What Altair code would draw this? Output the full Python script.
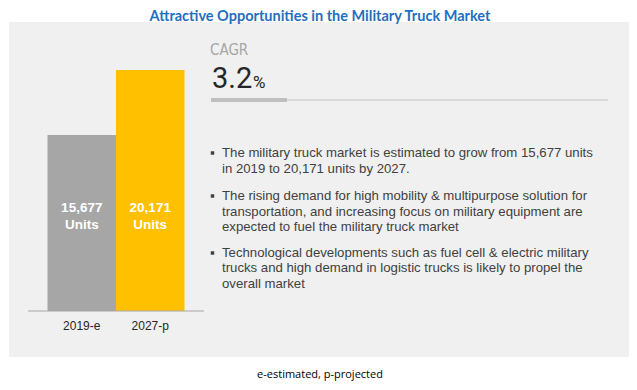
import altair as alt
import pandas as pd

# ---- data ----
categories = ["2019-e", "2027-p"]
values = [15677, 20171]
bar_colors = ["#a6a6a6", "#ffc000"]
title_text = "Attractive Opportunities in the Military Truck Market"
cagr_label = "CAGR"
cagr_value = "3.2"
cagr_unit = "%"
footnote = "e-estimated, p-projected"
bullet_lines = [
    ["The military truck market is estimated to grow from 15,677 units",
     "in 2019  to 20,171 units by 2027."],
    ["The rising demand for high mobility & multipurpose solution for",
     "transportation, and increasing focus on military equipment are",
     "expected to fuel the military truck market"],
    ["Technological developments such as fuel cell & electric military",
     "trucks and high demand in logistic trucks is likely to propel the",
     "overall market"],
]

W, H = 621, 374
y_floor = 3510

bars_df = pd.DataFrame({
    "cat": categories,
    "value": values,
    "color": bar_colors,
    "label": [f"{v:,}\nUnits" for v in values],
})

xscale = alt.Scale(domain=categories, range=[20, 196], paddingInner=0, paddingOuter=0.285)
yscale = alt.Scale(domain=[y_floor, 24457], range=[303, 0], zero=False, nice=False)

panel = alt.Chart(pd.DataFrame({"a": [0]})).mark_rect(color="#f0f0f0").encode(
    x=alt.value(1), x2=alt.value(623), y=alt.value(14), y2=alt.value(349)
)

bars = alt.Chart(bars_df).mark_bar(size=68.5).encode(
    x=alt.X("cat:N", scale=xscale, axis=None, sort=categories),
    y=alt.Y("value:Q", scale=yscale, axis=None),
    y2=alt.datum(y_floor),
    color=alt.Color("color:N", scale=None),
)

bar_labels = alt.Chart(bars_df).mark_text(
    font="Liberation Sans", fontSize=13.5, fontWeight="bold", color="white",
    lineHeight=17, baseline="middle", align="center", lineBreak="\n"
).encode(
    x=alt.X("cat:N", scale=xscale, axis=None, sort=categories),
    y=alt.value(200),
    text="label:N",
)

baseline = alt.Chart(pd.DataFrame({"a": [0]})).mark_rule(color="#a6a6a6", strokeWidth=1).encode(
    x=alt.value(20), x2=alt.value(196), y=alt.value(303)
)

cat_labels = alt.Chart(bars_df).mark_text(
    font="Liberation Sans", fontSize=12, color="#262626", baseline="middle"
).encode(
    x=alt.X("cat:N", scale=xscale, axis=None, sort=categories),
    y=alt.value(318),
    text="cat:N",
)

def txt(t, x, y, **kw):
    return alt.Chart(pd.DataFrame({"t": [t]})).mark_text(**kw).encode(
        x=alt.value(x), y=alt.value(y), text="t:N"
    )

title = txt(title_text, 312, 9, font="Lato", fontSize=14.5, fontWeight="bold",
            color="#1f6fbf", align="center", baseline="middle")
cagr = txt(cagr_label, 202, 42, font="DejaVu Sans Condensed, Liberation Sans", fontSize=15,
           color="#a6a6a6", align="left", baseline="middle")
cagr_v = txt(cagr_value, 204, 80, font="Roboto", fontSize=29, color="#262626",
             align="left", baseline="alphabetic")
cagr_u = txt(cagr_unit, 245, 80, font="Roboto", fontSize=17, color="#262626",
             align="left", baseline="alphabetic")

line_thin = alt.Chart(pd.DataFrame({"a": [0]})).mark_rule(color="#d9d9d9", strokeWidth=2).encode(
    x=alt.value(203), x2=alt.value(600), y=alt.value(92)
)
line_thick = alt.Chart(pd.DataFrame({"a": [0]})).mark_rule(color="#bfbfbf", strokeWidth=4).encode(
    x=alt.value(203), x2=alt.value(279), y=alt.value(92)
)

para_y = [[145, 161], [188, 204, 219], [245, 260, 276]]
rows = []
for lines, ys in zip(bullet_lines, para_y):
    for ln, yy in zip(lines, ys):
        rows.append({"t": ln, "y": yy})
text_df = pd.DataFrame(rows)
bullet_df = pd.DataFrame({"y": [ys[0] for ys in para_y]})

body = alt.Chart(text_df).mark_text(
    font="Liberation Sans", fontSize=13.2, color="#404040", align="left", baseline="middle"
).encode(
    x=alt.value(214),
    y=alt.Y("y:Q", scale=alt.Scale(domain=[0, H], range=[0, H]), axis=None),
    text="t:N",
)
bullets = alt.Chart(bullet_df).mark_square(size=12, color="#404040", opacity=1).encode(
    x=alt.value(204.5),
    y=alt.Y("y:Q", scale=alt.Scale(domain=[0, H], range=[0, H]), axis=None),
)

foot = txt(footnote, 312, 367, font="Open Sans", fontSize=11, color="#000000",
           align="center", baseline="middle")

chart = alt.layer(
    panel, bars, bar_labels, baseline, cat_labels, title, cagr, cagr_v, cagr_u,
    line_thin, line_thick, body, bullets, foot
).resolve_scale(y="independent").properties(
    width=W, height=H, padding=0, autosize="none", background="white"
).configure_view(stroke=None)

chart.save("out.html", embed_options={"renderer": "svg", "actions": False})
